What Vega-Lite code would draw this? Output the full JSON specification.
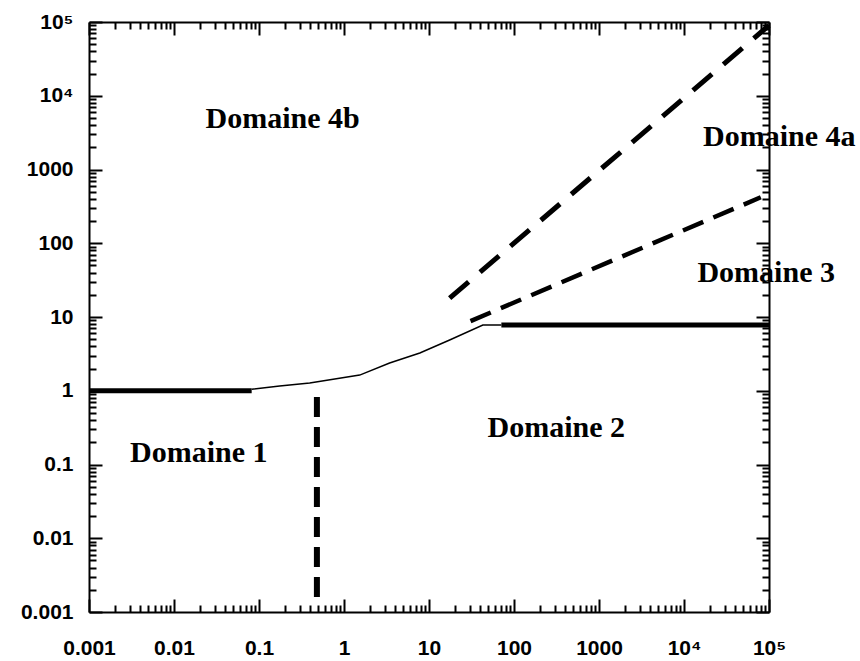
{
  "$schema": "https://vega.github.io/schema/vega-lite/v6.json",
  "width": 680,
  "height": 590,
  "autosize": {"type": "none"},
  "padding": {"left": 89, "top": 22, "right": 91, "bottom": 49},
  "background": "white",
  "config": {"view": {"stroke": null}},
  "datasets": {
    "thick": [
      {"seg": "a", "x": 0.001, "y": 1},
      {"seg": "a", "x": 0.082, "y": 1},
      {"seg": "b", "x": 71, "y": 7.8},
      {"seg": "b", "x": 100000, "y": 7.8}
    ],
    "thin": [
      {"x": 0.082, "y": 1.05},
      {"x": 0.175, "y": 1.16},
      {"x": 0.395, "y": 1.27},
      {"x": 1.53, "y": 1.63},
      {"x": 3.44, "y": 2.38},
      {"x": 7.8, "y": 3.25},
      {"x": 17.5, "y": 4.88},
      {"x": 43, "y": 7.8},
      {"x": 71, "y": 7.8}
    ],
    "dashhi": [
      {"x": 17.5, "y": 18},
      {"x": 100000, "y": 90000}
    ],
    "dashlo": [
      {"x": 30.8, "y": 8.8},
      {"x": 80000, "y": 420}
    ],
    "vdash": [
      {"x": 0.48, "y": 0.82},
      {"x": 0.48, "y": 0.00146}
    ],
    "labels": [
      {"x": 0.19, "y": 3655, "text": "Domaine 4b"},
      {"x": 132000, "y": 2084, "text": "Domaine 4a"},
      {"x": 92700, "y": 29.9, "text": "Domaine 3"},
      {"x": 315, "y": 0.236, "text": "Domaine 2"},
      {"x": 0.0196, "y": 0.108, "text": "Domaine 1"}
    ]
  },
  "resolve": {"axis": {"x": "independent", "y": "independent"}},
  "layer": [
    {
      "data": {"name": "thick"},
      "mark": {"type": "line", "color": "black", "strokeWidth": 5, "strokeCap": "butt"},
      "encoding": {
        "x": {
          "field": "x", "type": "quantitative",
          "scale": {"type": "log", "domain": [0.001, 100000], "nice": false},
          "axis": {
            "orient": "bottom",
            "title": null,
            "grid": false,
            "values": [0.001,0.002,0.003,0.004,0.005,0.006,0.007,0.008,0.009,0.01,0.02,0.03,0.04,0.05,0.06,0.07,0.08,0.09,0.1,0.2,0.3,0.4,0.5,0.6,0.7,0.8,0.9,1,2,3,4,5,6,7,8,9,10,20,30,40,50,60,70,80,90,100,200,300,400,500,600,700,800,900,1000,2000,3000,4000,5000,6000,7000,8000,9000,10000,20000,30000,40000,50000,60000,70000,80000,90000,100000],
            "tickSize": {"condition": {"test": "abs(log(datum.value)/LN10 - round(log(datum.value)/LN10)) < 0.001", "value": -13}, "value": -7},
            "tickWidth": 2,
            "tickColor": "black",
            "domainColor": "black",
            "domainWidth": 2,
            "labelExpr": "abs(log(datum.value)/LN10 - round(log(datum.value)/LN10)) < 0.001 ? (datum.value > 50000 ? '10⁵' : (datum.value > 5000 ? '10⁴' : format(datum.value, '~g'))) : ''",
            "labelFont": "Liberation Sans",
            "labelFontWeight": "bold",
            "labelFontSize": 21,
            "labelColor": "black",
            "labelPadding": 38,
            "labelFlush": false,
            "labelOverlap": false
          }
        },
        "y": {
          "field": "y", "type": "quantitative",
          "scale": {"type": "log", "domain": [0.001, 100000], "nice": false},
          "axis": {
            "orient": "left",
            "title": null,
            "grid": false,
            "values": [0.001,0.002,0.003,0.004,0.005,0.006,0.007,0.008,0.009,0.01,0.02,0.03,0.04,0.05,0.06,0.07,0.08,0.09,0.1,0.2,0.3,0.4,0.5,0.6,0.7,0.8,0.9,1,2,3,4,5,6,7,8,9,10,20,30,40,50,60,70,80,90,100,200,300,400,500,600,700,800,900,1000,2000,3000,4000,5000,6000,7000,8000,9000,10000,20000,30000,40000,50000,60000,70000,80000,90000,100000],
            "tickSize": {"condition": {"test": "abs(log(datum.value)/LN10 - round(log(datum.value)/LN10)) < 0.001", "value": -13}, "value": -7},
            "tickWidth": 2,
            "tickColor": "black",
            "domainColor": "black",
            "domainWidth": 2,
            "labelExpr": "abs(log(datum.value)/LN10 - round(log(datum.value)/LN10)) < 0.001 ? (datum.value > 50000 ? '10⁵' : (datum.value > 5000 ? '10⁴' : format(datum.value, '~g'))) : ''",
            "labelFont": "Liberation Sans",
            "labelFontWeight": "bold",
            "labelFontSize": 21,
            "labelColor": "black",
            "labelPadding": 29,
            "labelFlush": false,
            "labelOverlap": false
          }
        },
        "detail": {"field": "seg"}
      }
    },
    {
      "data": {"name": "thin"},
      "mark": {"type": "line", "color": "black", "strokeWidth": 1.5},
      "encoding": {
        "x": {
          "field": "x", "type": "quantitative",
          "scale": {"type": "log", "domain": [0.001, 100000], "nice": false},
          "axis": {
            "orient": "top",
            "title": null,
            "grid": false,
            "values": [0.001,0.002,0.003,0.004,0.005,0.006,0.007,0.008,0.009,0.01,0.02,0.03,0.04,0.05,0.06,0.07,0.08,0.09,0.1,0.2,0.3,0.4,0.5,0.6,0.7,0.8,0.9,1,2,3,4,5,6,7,8,9,10,20,30,40,50,60,70,80,90,100,200,300,400,500,600,700,800,900,1000,2000,3000,4000,5000,6000,7000,8000,9000,10000,20000,30000,40000,50000,60000,70000,80000,90000,100000],
            "tickSize": {"condition": {"test": "abs(log(datum.value)/LN10 - round(log(datum.value)/LN10)) < 0.001", "value": -13}, "value": -7},
            "tickWidth": 2,
            "tickColor": "black",
            "domainColor": "black",
            "domainWidth": 2,
            "labels": false
          }
        },
        "y": {
          "field": "y", "type": "quantitative",
          "scale": {"type": "log", "domain": [0.001, 100000], "nice": false},
          "axis": {
            "orient": "right",
            "title": null,
            "grid": false,
            "values": [0.001,0.002,0.003,0.004,0.005,0.006,0.007,0.008,0.009,0.01,0.02,0.03,0.04,0.05,0.06,0.07,0.08,0.09,0.1,0.2,0.3,0.4,0.5,0.6,0.7,0.8,0.9,1,2,3,4,5,6,7,8,9,10,20,30,40,50,60,70,80,90,100,200,300,400,500,600,700,800,900,1000,2000,3000,4000,5000,6000,7000,8000,9000,10000,20000,30000,40000,50000,60000,70000,80000,90000,100000],
            "tickSize": {"condition": {"test": "abs(log(datum.value)/LN10 - round(log(datum.value)/LN10)) < 0.001", "value": -13}, "value": -7},
            "tickWidth": 2,
            "tickColor": "black",
            "domainColor": "black",
            "domainWidth": 2,
            "labels": false
          }
        }
      }
    },
    {
      "data": {"name": "dashhi"},
      "mark": {"type": "line", "color": "black", "strokeWidth": 5, "strokeDash": [25, 15], "strokeCap": "butt"},
      "encoding": {
        "x": {"field": "x", "type": "quantitative", "scale": {"type": "log", "domain": [0.001, 100000], "nice": false}, "axis": null},
        "y": {"field": "y", "type": "quantitative", "scale": {"type": "log", "domain": [0.001, 100000], "nice": false}, "axis": null}
      }
    },
    {
      "data": {"name": "dashlo"},
      "mark": {"type": "line", "color": "black", "strokeWidth": 4.5, "strokeDash": [22, 11], "strokeCap": "butt"},
      "encoding": {
        "x": {"field": "x", "type": "quantitative", "scale": {"type": "log", "domain": [0.001, 100000], "nice": false}, "axis": null},
        "y": {"field": "y", "type": "quantitative", "scale": {"type": "log", "domain": [0.001, 100000], "nice": false}, "axis": null}
      }
    },
    {
      "data": {"name": "vdash"},
      "mark": {"type": "line", "color": "black", "strokeWidth": 6, "strokeDash": [20, 10], "strokeCap": "butt"},
      "encoding": {
        "x": {"field": "x", "type": "quantitative", "scale": {"type": "log", "domain": [0.001, 100000], "nice": false}, "axis": null},
        "y": {"field": "y", "type": "quantitative", "scale": {"type": "log", "domain": [0.001, 100000], "nice": false}, "axis": null},
        "order": {"field": "y", "sort": "descending"}
      }
    },
    {
      "data": {"name": "labels"},
      "mark": {"type": "text", "color": "black", "font": "Liberation Serif", "fontWeight": "bold", "fontSize": 30, "align": "center", "baseline": "alphabetic"},
      "encoding": {
        "x": {"field": "x", "type": "quantitative", "scale": {"type": "log", "domain": [0.001, 100000], "nice": false}, "axis": null},
        "y": {"field": "y", "type": "quantitative", "scale": {"type": "log", "domain": [0.001, 100000], "nice": false}, "axis": null},
        "text": {"field": "text"}
      }
    }
  ]
}
